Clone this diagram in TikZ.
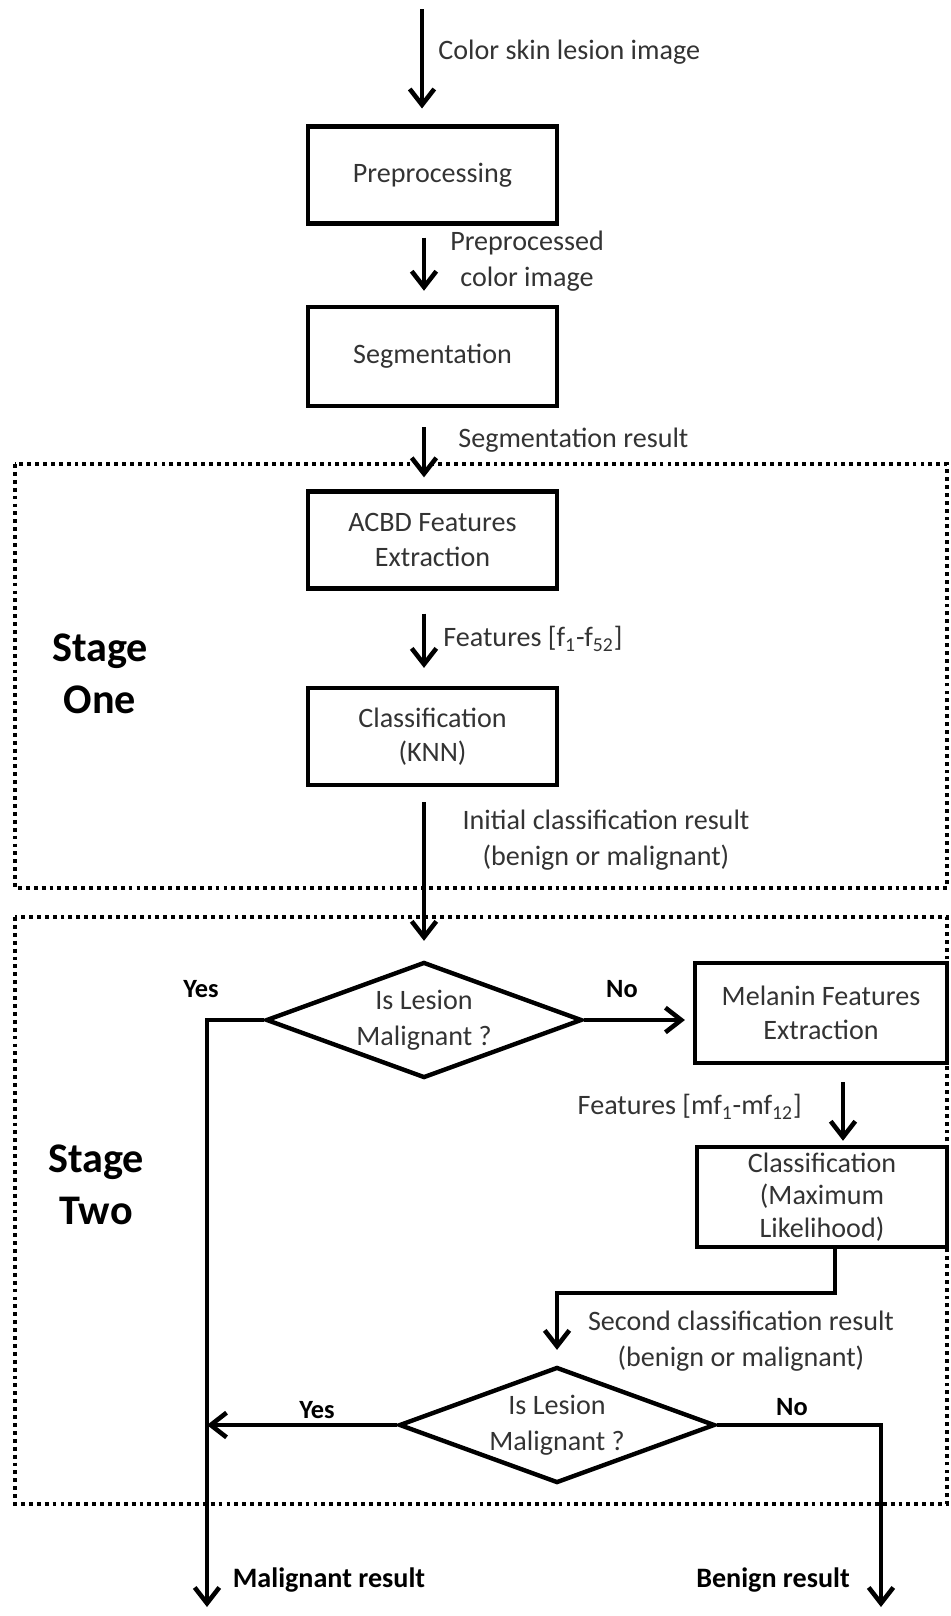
\documentclass[tikz,border=0pt]{standalone}
\usepackage{fontspec}
\setmainfont{Carlito}
\usetikzlibrary{shapes.geometric}
\usetikzlibrary{arrows.meta}
\definecolor{textColor}{rgb}{0.2,0.2,0.2}

\begin{document}
\begin{tikzpicture}[x=0.02cm,y=-0.02cm]

  \tikzstyle{stepBox} = [draw,line width=2.5pt,minimum width=4.98cm,minimum height=1.94cm,inner sep=0pt,align=center,text=textColor,font=\fontsize{16}{19.5}\selectfont];
  \tikzstyle{decision} = [draw,diamond,aspect=2.72,line width=2.5pt,minimum width=6.32cm,minimum height=2.32cm,inner sep=0pt,align=center,text=textColor,font=\fontsize{16}{20.5}\selectfont];
  \tikzstyle{flow} = [line width=2.6pt,-{Straight Barb[length=9pt,width=14pt]}];
  \tikzstyle{stageBox} = [line width=2.2pt,dash pattern=on 2.2pt off 2.3pt];
  \tikzstyle{lbl} = [inner sep=0pt,align=center,text=textColor,font=\fontsize{16}{20.5}\selectfont];
  \tikzstyle{answer} = [inner sep=0pt,font=\bfseries\fontsize{15}{18}\selectfont];
  \tikzstyle{result} = [inner sep=0pt,font=\bfseries\fontsize{16}{19}\selectfont];
  \tikzstyle{stageLbl} = [inner sep=0pt,align=center,font=\bfseries\fontsize{24}{29.5}\selectfont];

  \useasboundingbox (0,0) rectangle (950,1616);

  \draw[stageBox] (15,464) rectangle (947,888);
  \draw[stageBox] (15,917) rectangle (947,1504);

  \node[stageLbl] (one) at (100,674) {Stage\\One};
  \node[stageLbl] (two) at (96,1185) {Stage\\Two};

  \node[stepBox] (pre) at (432.5,175) {Preprocessing};
  \node[stepBox,minimum height=1.98cm] (seg) at (432.5,356.5) {Segmentation};
  \node[stepBox] (acbd) at (432.5,540) {ACBD Features\\Extraction};
  \node[stepBox] (knn) at (432.5,736.5) {Classification\\(KNN)};
  \node[decision] (d1) at (424,1020) {Is Lesion\\Malignant ?};
  \node[stepBox,minimum width=5.04cm,minimum height=2cm] (mel) at (821,1013) {Melanin Features\\Extraction};
  \node[stepBox,minimum width=5cm,minimum height=2cm,font=\fontsize{16}{18.5}\selectfont] (ml) at (822,1197) {Classification\\(Maximum\\Likelihood)};
  \node[decision] (d2) at (557,1425) {Is Lesion\\Malignant ?};

  \coordinate (in) at (422,9);
  \coordinate (col) at (424,0);
  \coordinate (col2) at (843,0);
  \coordinate (bend) at (835,1293);
  \coordinate (yesEnd) at (207,1607);
  \coordinate (noEnd) at (881,1607);

  \node[lbl,anchor=west] (cin) at (438,52) {Color skin lesion image};
  \node[lbl] (cpre) at (527,261) {Preprocessed\\color image};
  \node[lbl,anchor=west] (cseg) at (458,440) {Segmentation result};
  \node[lbl,anchor=west] (cf) at (443,639) {Features [f\textsubscript{1}-f\textsubscript{52}]};
  \node[lbl] (cinit) at (606,840) {Initial classification result\\(benign or malignant)};
  \node[lbl,anchor=east] (cmf) at (802,1107) {Features [mf\textsubscript{1}-mf\textsubscript{12}]};
  \node[lbl] (csec) at (741,1341) {Second classification result\\(benign or malignant)};

  \node[answer] (yes1) at (201,989) {Yes};
  \node[answer] (no1) at (622,989) {No};
  \node[answer] (yes2) at (317,1410) {Yes};
  \node[answer] (no2) at (792,1407) {No};
  \node[result] (mal) at (329,1580) {Malignant result};
  \node[result] (ben) at (773,1580) {Benign result};

  \draw[flow,shorten >=9pt] (in) -- (in |- pre.north);
  \draw[flow,shorten <=6.8pt,shorten >=8pt] (pre.south -| col) -- (seg.north -| col);
  \draw[flow,shorten <=10.8pt,shorten >=6.8pt] (seg.south -| col) -- (acbd.north -| col);
  \draw[flow,shorten <=13pt,shorten >=10.2pt] (acbd.south -| col) -- (knn.north -| col);
  \draw[flow,shorten <=8.5pt,shorten >=10.8pt] (knn.south -| col) -- (d1.north);
  \draw[flow,shorten >=4.5pt] (d1.east) -- (d1.east -| mel.west);
  \draw[flow,shorten <=9.6pt,shorten >=2.3pt] (mel.south -| col2) -- (ml.north -| col2);
  \draw[flow,shorten >=8.5pt] (ml.south -| bend) -- (bend) -| (d2.north);
  \draw[flow] (d1.west) -| (yesEnd);
  \draw[flow] (d2.west) -- (d2.west -| yesEnd);
  \draw[flow] (d2.east) -| (noEnd);
\end{tikzpicture}
\end{document}
